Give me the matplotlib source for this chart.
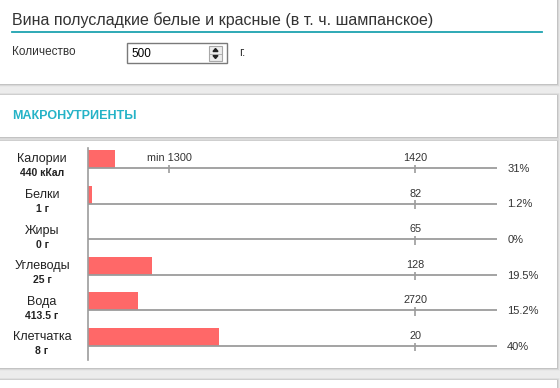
import matplotlib
matplotlib.use("Agg")
from matplotlib import pyplot as plt
from matplotlib import transforms
from matplotlib.patches import Rectangle, Polygon

plt.rcParams['font.family'] = ['Liberation Sans', 'DejaVu Sans']

# data
title = "Вина полусладкие белые и красные (в т. ч. шампанское)"
amount_label = "Количество"
amount_value = "500"
amount_unit = "г."
section = "МАКРОНУТРИЕНТЫ"

nutrients = ['Калории', 'Белки', 'Жиры', 'Углеводы', 'Вода', 'Клетчатка']
amounts = ['440 кКал', '1 г', '0 г', '25 г', '413.5 г', '8 г']
norms = ['1420', '82', '65', '128', '2720', '20']
pct_labels = ['31%', '1.2%', '0%', '19.5%', '15.2%', '40%']
bar_pct = [8.3, 1.2, 0, 19.5, 15.2, 40]   # bar length, % of the norm mark
min_mark_pct = 24.8
min_mark_label = 'min 1300'

W, H = 560, 388
BG = '#ececec'
TEAL_LINE = '#1ea3b0'
TEAL_TEXT = '#25b3c7'
BAR = '#ff6868'
GRID = '#9c9c9c'
TXT = '#333333'

fig = plt.figure(figsize=(W / 100, H / 100), dpi=100, facecolor=BG)

# background layer in pixel coordinates
bg = fig.add_axes([0, 0, 1, 1])
bg.set_xlim(0, W)
bg.set_ylim(H, 0)
bg.axis('off')


def panel(y0, y1, x1=557):
    # soft shadow then white card
    for k, a in zip(range(5, 0, -1), [0.04, 0.06, 0.08, 0.10, 0.14]):
        bg.add_patch(Rectangle((-10, y0 - k * 0.4), x1 + 10 + k * 0.6, y1 - y0 + k * 1.0,
                               facecolor='#808080', edgecolor='none', alpha=a))
    bg.add_patch(Rectangle((-10, y0), x1 + 10, y1 - y0, facecolor='white', edgecolor='none'))


panel(-10, 84)
panel(95, 137)
panel(141, 368)
panel(380, 400)

# header card
bg.text(12, 20, title, fontsize=11.5, color=TXT, va='center', ha='left')
bg.plot([12, 542], [32, 32], color=TEAL_LINE, lw=1.3)
bg.text(12, 52, amount_label, fontsize=8.5, color=TXT, va='center', ha='left')
bg.add_patch(Rectangle((127, 43), 100, 20, facecolor='white', edgecolor='#7a7a7a', lw=1))
bg.text(131, 54, amount_value, fontsize=8.5, color='black', va='center', ha='left')
bg.add_patch(Rectangle((209, 46), 13, 15, facecolor='#ececec', edgecolor='#a8a8a8', lw=0.8))
bg.plot([209, 222], [53.5, 53.5], color='#a8a8a8', lw=0.6)
bg.add_patch(Polygon([(213, 51.5), (218, 51.5), (215.5, 48.5)], closed=True, color='#222'))
bg.add_patch(Polygon([(213, 55.5), (218, 55.5), (215.5, 58.5)], closed=True, color='#222'))
bg.text(239, 53, amount_unit, fontsize=8.5, color=TXT, va='center', ha='left')

bg.text(12, 116, section, fontsize=9, color=TEAL_TEXT, va='center', ha='left', fontweight='bold')

# chart axes: x = % of norm, y = row index
left_px, right_px, top_px, bot_px = 88, 497, 148, 360
row0_px, row_step = 168, 35.6
ax = fig.add_axes([left_px / W, 1 - bot_px / H, (right_px - left_px) / W, (bot_px - top_px) / H])
ax.patch.set_alpha(0)
ax.set_xlim(0, 125)
ax.set_ylim((bot_px - row0_px) / row_step, (top_px - row0_px) / row_step)
for s in ['top', 'right', 'bottom']:
    ax.spines[s].set_visible(False)
ax.spines['left'].set_color(GRID)
ax.spines['left'].set_linewidth(1.2)
ax.set_xticks([])
ax.set_yticks([])

rows = list(range(len(nutrients)))
bar_h = 18 / row_step
ax.barh([r - bar_h for r in rows], bar_pct, height=bar_h, align='edge', color=BAR, zorder=2)
ax.hlines(rows, 0, 125, color=GRID, lw=1.3, zorder=3)
ax.vlines([100] * len(rows), [r - 0.09 for r in rows], [r + 0.15 for r in rows], color=GRID, lw=1.2, zorder=3)
ax.vlines(min_mark_pct, -0.09, 0.15, color=GRID, lw=1.2, zorder=3)
ax.text(min_mark_pct, -0.28, min_mark_label, fontsize=7.8, color=TXT, ha='center', va='center')

for r in rows:
    ax.text(100, r - 0.28, norms[r], fontsize=7.8, color=TXT, ha='center', va='center')
    ax.text(128.1, r + 0.02, pct_labels[r], fontsize=8, color=TXT, ha='left', va='center', clip_on=False)

# row names on the left
trans = transforms.blended_transform_factory(fig.transFigure, ax.transData)
for r in rows:
    fig.text(42 / W, r - 0.24, nutrients[r], transform=trans, fontsize=9, color='#222222',
             ha='center', va='center')
    fig.text(42 / W, r + 0.15, amounts[r], transform=trans, fontsize=7.5, color='#222222',
             ha='center', va='center', fontweight='bold')

fig.savefig('out.png', dpi=100, facecolor=BG)
